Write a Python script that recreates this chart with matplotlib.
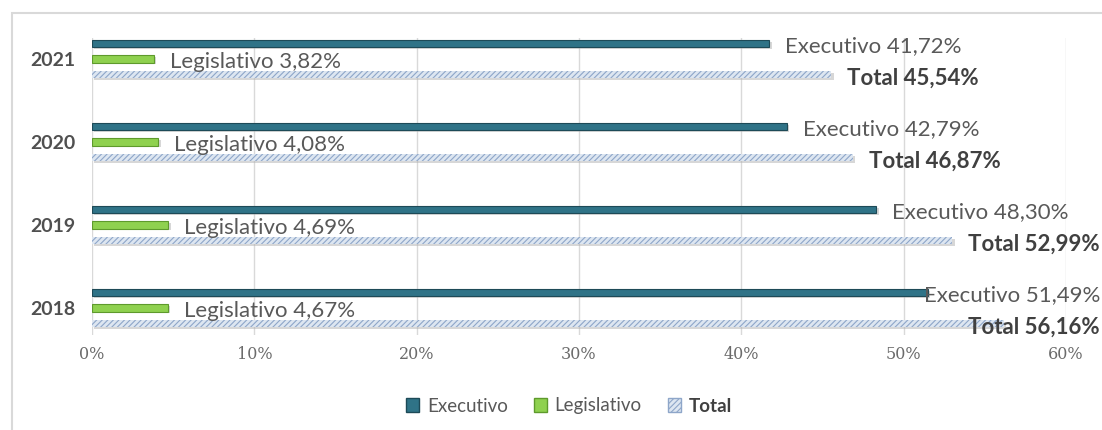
import matplotlib.pyplot as plt
from matplotlib.patches import Patch, Rectangle

years = ['2018', '2019', '2020', '2021']
executivo = [51.49, 48.30, 42.79, 41.72]
legislativo = [4.67, 4.69, 4.08, 3.82]
total = [56.16, 52.99, 46.87, 45.54]

exec_color = '#2f7387'
legis_color = '#8fd14f'
total_face = '#dde6f1'
total_hatch = '#8ea6c9'
text_color = '#404040'
label_font = 'Lato'

plt.rcParams['hatch.linewidth'] = 0.8


def fmt(v):
    return f'{v:.2f}'.replace('.', ',') + '%'


def place_label(ax, value, y, text, bold=False, limit=None):
    # left of the bar end unless it would run past the right side
    kw = dict(va='center', fontsize=16, color=text_color if bold else '#595959',
              family=label_font, fontweight='bold' if bold else 'normal',
              clip_on=False, zorder=5)
    if limit is not None and value > limit:
        ax.text(62.1, y, text, ha='right', **kw)
    else:
        ax.text(value + 1.0, y, text, ha='left', **kw)


fig = plt.figure(figsize=(11.02, 4.30), dpi=100)
ax = fig.add_axes([92 / 1102, 95 / 430, (1066 - 92) / 1102, 297 / 430])

# outer chart border
fig.patches.append(Rectangle((12 / 1102, -0.05), 1.2, (430 - 13) / 430 + 0.05,
                             transform=fig.transFigure, fill=False,
                             edgecolor='#d9d9d9', linewidth=1.5))

pos = list(range(len(years)))
off = 0.187
h = 0.085

for i in pos:
    # shadows
    ax.barh(i + off - 0.02, executivo[i], height=h, left=0.15, color='#b0b0b0', alpha=0.5, zorder=2)
    ax.barh(i - 0.02, legislativo[i], height=h, left=0.15, color='#b0b0b0', alpha=0.5, zorder=2)
    ax.barh(i - off - 0.02, total[i], height=h, left=0.15, color='#b0b0b0', alpha=0.5, zorder=2)

ax.barh([p + off for p in pos], executivo, height=h, color=exec_color,
        edgecolor='#1d4a57', linewidth=0.8, zorder=3)
ax.barh(pos, legislativo, height=h, color=legis_color,
        edgecolor='#5e9a2c', linewidth=0.8, zorder=3)
ax.barh([p - off for p in pos], total, height=h, color=total_face,
        edgecolor=total_hatch, hatch='//////', linewidth=0, zorder=3)

for i in pos:
    place_label(ax, executivo[i], i + off - 0.035, 'Executivo ' + fmt(executivo[i]), limit=50)
    place_label(ax, legislativo[i], i - 0.035, 'Legislativo ' + fmt(legislativo[i]))
    place_label(ax, total[i], i - off - 0.045, 'Total ' + fmt(total[i]), bold=True, limit=52)

ax.set_xlim(0, 60)
ax.set_ylim(-0.325, 3.253)
ax.set_xticks(range(0, 61, 10))
ax.set_xticklabels([f'{t}%' for t in range(0, 61, 10)], family='DejaVu Serif',
                   fontsize=11.5, color='#6b6b6b')
ax.set_yticks(pos)
ax.set_yticklabels(years, fontsize=14, fontweight='bold', color='#505050', family=label_font)
ax.tick_params(axis='both', length=0)
ax.tick_params(axis='y', pad=12)
ax.tick_params(axis='x', pad=8)
ax.grid(axis='x', color='#d9d9d9', linewidth=1, zorder=0)
ax.set_axisbelow(True)
for s in ax.spines.values():
    s.set_visible(False)

handles = [
    Patch(facecolor=exec_color, edgecolor='#1d4a57', label='Executivo'),
    Patch(facecolor=legis_color, edgecolor='#5e9a2c', label='Legislativo'),
    Patch(facecolor=total_face, edgecolor=total_hatch, hatch='//////', label='Total'),
]
leg = fig.legend(handles=handles, loc='center', bbox_to_anchor=(569 / 1102, 1 - 406 / 430),
                 ncol=3, frameon=False, handlelength=0.7, handleheight=0.7,
                 handletextpad=0.4, columnspacing=1.4,
                 prop={'family': label_font, 'size': 13.5})
for t in leg.get_texts():
    t.set_color('#595959')
leg.get_texts()[2].set_fontweight('bold')
leg.get_texts()[2].set_color(text_color)

fig.savefig('out.png', dpi=100)
